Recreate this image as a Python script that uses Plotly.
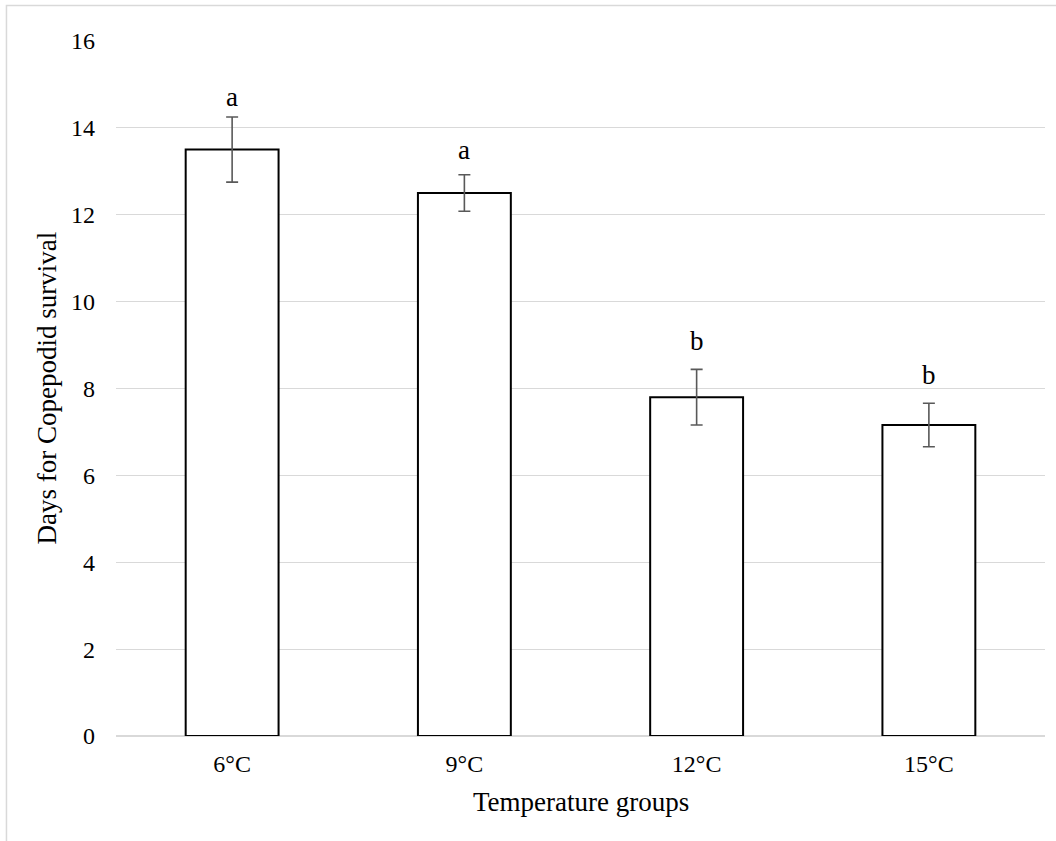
import plotly.graph_objects as go

# Survival duration of copepodids by temperature group
groups = ["6°C", "9°C", "12°C", "15°C"]
mean_days = [13.5, 12.5, 7.8, 7.16]
err_days = [0.75, 0.42, 0.64, 0.5]
sig_letters = ["a", "a", "b", "b"]
letter_y = [14.70, 13.48, 9.10, 8.31]
y_ticks = [0, 2, 4, 6, 8, 10, 12, 14, 16]

FONT = "Liberation Serif, Times New Roman, serif"

fig = go.Figure()
fig.add_trace(go.Bar(
    x=groups,
    y=mean_days,
    width=0.4,
    marker=dict(color="white", line=dict(color="black", width=2)),
    error_y=dict(type="data", array=err_days, visible=True,
                 color="#595959", thickness=1.6, width=6),
    showlegend=False,
))

# significance letters above each bar
for g, letter, ly in zip(groups, sig_letters, letter_y):
    fig.add_annotation(x=g, y=ly, text=letter, showarrow=False,
                       xref="x", yref="y", yanchor="middle",
                       font=dict(family=FONT, size=27, color="black"))

# axis titles
fig.add_annotation(x=0.5, y=0, xref="paper", yref="paper",
                   text="Temperature groups", showarrow=False,
                   yanchor="middle", yshift=-66,
                   font=dict(family=FONT, size=27, color="black"))
fig.add_annotation(x=0, y=0.5, xref="paper", yref="paper",
                   text="Days for Copepodid survival", showarrow=False,
                   textangle=-90, xanchor="center", xshift=-70,
                   font=dict(family=FONT, size=27, color="black"))

# outer chart frame
fig.add_shape(type="rect", xref="paper", yref="paper",
              x0=-0.1179, x1=1.05, y0=-0.3, y1=1.0511,
              line=dict(color="#d9d9d9", width=1.5), layer="below")

fig.update_layout(
    width=1056, height=841,
    margin=dict(l=116, r=11, t=41, b=105),
    paper_bgcolor="white", plot_bgcolor="white",
    font=dict(family=FONT, color="black"),
    bargap=0.6,
)
fig.update_xaxes(
    showgrid=False, showline=False, zeroline=False, ticks="",
    tickfont=dict(family=FONT, size=24, color="black"),
    ticklabelstandoff=11,
)
fig.update_yaxes(
    range=[0, 16], tickvals=y_ticks,
    showgrid=True, gridcolor="#d9d9d9", gridwidth=1.2,
    zeroline=True, zerolinecolor="#d9d9d9", zerolinewidth=1.5,
    showline=False, ticks="",
    tickfont=dict(family=FONT, size=24, color="black"),
    ticklabelstandoff=20,
)

fig.write_html("out.html")
